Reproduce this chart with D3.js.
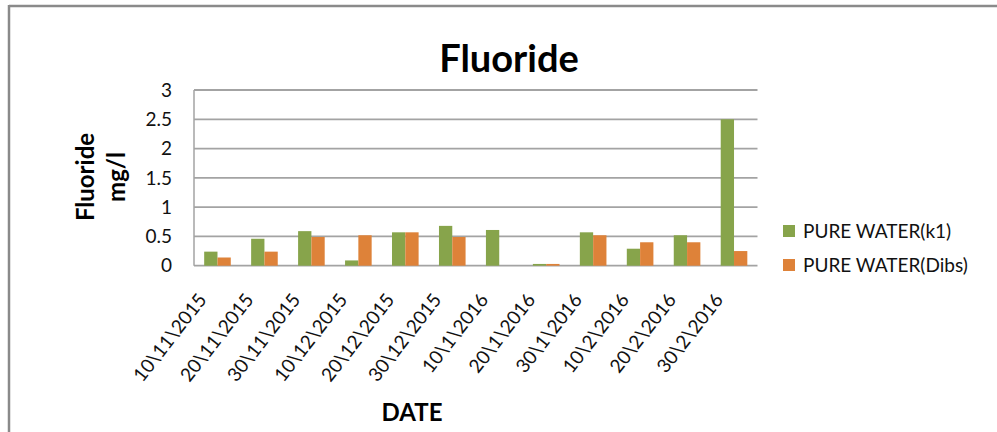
<!DOCTYPE html>
<html>
<head>
<meta charset="utf-8">
<script src="https://cdn.jsdelivr.net/npm/d3@7"></script>
<style>
  body { margin: 0; background: #fff; }
  svg { display: block; font-family: Lato, "Open Sans", sans-serif; }
</style>
</head>
<body>
<div id="chart"></div>
<script>
// Fluoride readings, mg/l
var dates = ["10\\11\\2015", "20\\11\\2015", "30\\11\\2015", "10\\12\\2015", "20\\12\\2015", "30\\12\\2015",
             "10\\1\\2016", "20\\1\\2016", "30\\1\\2016", "10\\2\\2016", "20\\2\\2016", "30\\2\\2016"];
var k1Values   = [0.24, 0.46, 0.59, 0.09, 0.57, 0.68, 0.61, 0.03, 0.57, 0.29, 0.52, 2.5];
var dibsValues = [0.14, 0.24, 0.49, 0.52, 0.57, 0.49, 0, 0.03, 0.52, 0.40, 0.40, 0.25];
var seriesNames = ["PURE WATER(k1)", "PURE WATER(Dibs)"];
var seriesColors = ["#87a44b", "#de8239"];
var yTicks = [0, 0.5, 1, 1.5, 2, 2.5, 3];

var width = 997;
var height = 432;

var svg = d3.select("#chart")
  .append("svg")
  .attr("width", width)
  .attr("height", height);

// outer frame (only top and left edges visible)
svg.append("line").attr("x1", 9).attr("x2", width).attr("y1", 6).attr("y2", 6)
  .attr("stroke", "#8a8a8a").attr("stroke-width", 2.5);
svg.append("line").attr("x1", 9).attr("x2", 9).attr("y1", 5).attr("y2", height)
  .attr("stroke", "#8a8a8a").attr("stroke-width", 2.5);

var xScale = d3.scaleBand()
  .domain(dates)
  .range([194, 757.5]);

var yScale = d3.scaleLinear()
  .domain([0, 3])
  .range([265.7, 90]);

// gridlines
svg.append("g")
  .selectAll("line")
  .data(yTicks)
  .enter()
  .append("line")
  .attr("x1", 194)
  .attr("x2", 757.5)
  .attr("y1", d => yScale(d))
  .attr("y2", d => yScale(d))
  .attr("stroke", "#a3a3a3")
  .attr("stroke-width", 1.8);

// left axis line
svg.append("line")
  .attr("x1", 194).attr("x2", 194)
  .attr("y1", yScale(3)).attr("y2", yScale(0))
  .attr("stroke", "#a3a3a3").attr("stroke-width", 1.5);

// y tick labels
svg.append("g")
  .selectAll("text")
  .data(yTicks)
  .enter()
  .append("text")
  .attr("x", 172)
  .attr("y", d => yScale(d))
  .attr("dy", "0.35em")
  .attr("text-anchor", "end")
  .attr("font-size", 19)
  .attr("fill", "#111")
  .text(d => d);

// bars
var barW = 13.3;
var groups = [k1Values, dibsValues];
groups.forEach(function(vals, s) {
  svg.append("g")
    .selectAll("rect")
    .data(vals)
    .enter()
    .append("rect")
    .attr("x", (d, i) => xScale(dates[i]) + xScale.bandwidth() / 2 - barW + s * barW)
    .attr("y", d => yScale(d))
    .attr("width", barW)
    .attr("height", d => yScale(0) - yScale(d))
    .attr("fill", seriesColors[s]);
});

// x labels
svg.append("g")
  .selectAll("text")
  .data(dates)
  .enter()
  .append("text")
  .attr("transform", d => "translate(" + (xScale(d) + xScale.bandwidth() / 2 - 10) + ",300) rotate(-52)")
  .attr("text-anchor", "end")
  .attr("font-size", 19)
  .attr("fill", "#111")
  .text(d => d);

// title
svg.append("text")
  .attr("x", 509)
  .attr("y", 72)
  .attr("text-anchor", "middle")
  .attr("font-size", 38)
  .attr("font-weight", "bold")
  .text("Fluoride");

// y axis title
var yTitle = svg.append("text")
  .attr("transform", "translate(94,177) rotate(-90)")
  .attr("text-anchor", "middle")
  .attr("font-size", 24)
  .attr("font-weight", "bold");
yTitle.append("tspan").attr("x", 0).attr("dy", 0).text("Fluoride");
yTitle.append("tspan").attr("x", 0).attr("dy", 31).text("mg/l");

// x axis title
svg.append("text")
  .attr("x", 412)
  .attr("y", 421)
  .attr("text-anchor", "middle")
  .attr("font-size", 24)
  .attr("font-weight", "bold")
  .text("DATE");

// legend
var legend = svg.append("g")
  .selectAll("g")
  .data(seriesNames)
  .enter()
  .append("g")
  .attr("transform", (d, i) => "translate(783," + (231 + i * 34) + ")");
legend.append("rect")
  .attr("x", 0).attr("y", -6)
  .attr("width", 12).attr("height", 12)
  .attr("fill", (d, i) => seriesColors[i]);
legend.append("text")
  .attr("x", 20)
  .attr("dy", "0.35em")
  .attr("font-size", 19)
  .attr("fill", "#111")
  .text(d => d);
</script>
</body>
</html>
